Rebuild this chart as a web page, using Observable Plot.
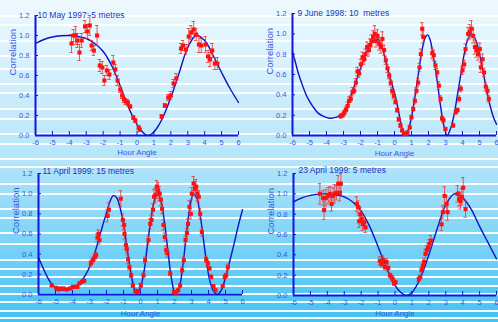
<!DOCTYPE html>
<html>
<head>
<meta charset="utf-8">
<script src="https://cdn.jsdelivr.net/npm/d3@7"></script>
<script src="https://cdn.jsdelivr.net/npm/@observablehq/plot@0.6"></script>
<style>
  html, body { margin: 0; padding: 0; }
  #wrap { position: relative; width: 498px; height: 322px; overflow: hidden;
    background: linear-gradient(#eef9fe 0%, #b4e5fa 50%, #42c2f2 100%); }
  .stripe { position: absolute; left: 0; width: 498px; height: 2px; background: rgba(255,255,255,0.95); }
  .panel { position: absolute; }
</style>
</head>
<body>
<div id="wrap"></div>
<script>
// ---- tick labels ----
const hourTicks = [-6, -5, -4, -3, -2, -1, 0, 1, 2, 3, 4, 5, 6];
const corrTicks = [0, 0.2, 0.4, 0.6, 0.8, 1.0, 1.2];
const xLabel = "Hour Angle";
const yLabel = "Correlation";
const titles = ["10 May 1997: 5 metres", "9 June 1998: 10  metres", "11 April 1999: 15 metres", "23 April 1999: 5 metres"];

// ---- 10 May 1997: measured [hour, correlation, error] ----
const may1997Points = [[-3.87,0.92,0.09],[-3.74,1.0,0.06],[-3.62,1.0,0.09],[-3.52,0.95,0.07],[-3.4,0.83,0.08],[-3.27,0.95,0.07],[-3.07,1.09,0.06],[-2.93,1.04,0.07],[-2.79,1.1,0.1],[-2.68,0.9,0.05],[-2.55,0.85,0.05],[-2.36,1.0,0.1],[-2.2,0.7,0.06],[-2.05,0.68,0.06],[-1.93,0.55,0.05],[-1.78,0.65,0.05],[-1.63,0.61,0.05],[-1.4,0.73,0.07],[-1.28,0.66,0.05],[-1.15,0.55,0.05],[-0.99,0.46,0.03],[-0.88,0.4,0.03],[-0.77,0.36,0.03],[-0.66,0.34,0.03],[-0.54,0.33,0.03],[-0.4,0.29,0.02],[-0.22,0.18,0.02],[-0.1,0.15,0.02],[0.1,0.08,0.02],[0.16,0.06,0.02],[1.46,0.19,0.02],[1.65,0.3,0.02],[1.85,0.38,0.03],[2.0,0.4,0.04],[2.16,0.52,0.04],[2.32,0.57,0.05],[2.6,0.87,0.05],[2.72,0.9,0.05],[2.9,0.86,0.05],[3.06,0.99,0.08],[3.2,1.03,0.07],[3.35,1.06,0.08],[3.5,1.01,0.06],[3.66,0.91,0.08],[3.8,0.9,0.07],[4.05,0.91,0.08],[4.2,0.79,0.06],[4.32,0.76,0.07],[4.45,0.85,0.07],[4.6,0.72,0.06],[4.75,0.72,0.06]];
const may1997FitHour = [-6,-5.5,-5,-4.5,-4,-3.5,-3,-2.5,-2,-1.5,-1,-0.5,0,0.3,0.6,0.9,1.2,1.5,2,2.5,3,3.5,4,4.5,5,5.5,6];
const may1997FitCorr = [0.92,0.96,0.985,0.997,1.0,0.99,0.97,0.92,0.84,0.7,0.5,0.28,0.11,0.04,0.0,0.02,0.08,0.17,0.38,0.63,0.88,1.0,0.95,0.8,0.63,0.47,0.33];

// ---- 9 June 1998 ----
const jun1998Points = [[-3.16,0.19,0.02],[-3.06,0.2,0.02],[-2.96,0.22,0.03],[-2.86,0.25,0.03],[-2.76,0.29,0.04],[-2.67,0.34,0.04],[-2.57,0.36,0.03],[-2.47,0.43,0.04],[-2.37,0.44,0.03],[-2.27,0.52,0.04],[-2.18,0.63,0.04],[-2.08,0.61,0.04],[-1.98,0.7,0.05],[-1.88,0.77,0.05],[-1.78,0.75,0.05],[-1.71,0.8,0.05],[-1.61,0.87,0.05],[-1.51,0.84,0.06],[-1.43,0.89,0.06],[-1.35,0.93,0.06],[-1.25,0.97,0.06],[-1.16,1.0,0.08],[-1.08,0.93,0.06],[-1.0,0.98,0.06],[-0.9,0.9,0.06],[-0.8,0.87,0.06],[-0.71,0.95,0.07],[-0.61,0.84,0.05],[-0.51,0.74,0.04],[-0.41,0.66,0.04],[-0.31,0.59,0.03],[-0.22,0.52,0.03],[-0.14,0.44,0.03],[-0.04,0.39,0.03],[0.06,0.33,0.02],[0.16,0.25,0.02],[0.25,0.16,0.02],[0.35,0.1,0.02],[0.45,0.05,0.01],[0.55,0.02,0.01],[0.65,0.015,0.01],[0.76,0.03,0.01],[0.9,0.08,0.02],[1.0,0.18,0.02],[1.1,0.26,0.02],[1.2,0.34,0.03],[1.29,0.44,0.03],[1.39,0.52,0.04],[1.47,0.67,0.04],[1.55,0.8,0.05],[1.63,1.05,0.06],[1.69,0.97,0.06],[2.22,0.81,0.05],[2.31,0.79,0.05],[2.41,0.69,0.04],[2.51,0.62,0.04],[2.61,0.49,0.04],[2.71,0.36,0.03],[2.8,0.17,0.02],[2.88,0.15,0.02],[3.0,0.065,0.01],[3.45,0.1,0.02],[3.61,0.23,0.02],[3.71,0.25,0.02],[3.8,0.36,0.03],[3.9,0.46,0.03],[4.0,0.64,0.04],[4.1,0.7,0.04],[4.18,0.85,0.05],[4.33,1.0,0.06],[4.43,1.02,0.07],[4.53,1.05,0.08],[4.63,0.98,0.07],[4.73,0.87,0.07],[4.82,0.84,0.07],[4.92,0.8,0.06],[5.02,0.85,0.06],[5.08,0.67,0.05],[5.18,0.75,0.05],[5.27,0.62,0.04],[5.37,0.48,0.04],[5.47,0.44,0.03],[5.55,0.36,0.03]];
const jun1998FitHour = [-6,-5.86,-5.67,-5.47,-5.27,-5.08,-4.78,-4.49,-4.2,-3.8,-3.41,-3.1,-2.75,-2.5,-2.25,-2,-1.75,-1.5,-1.25,-1,-0.75,-0.5,-0.25,0,0.2,0.4,0.6,0.8,1.0,1.2,1.4,1.6,1.8,1.95,2.1,2.3,2.5,2.7,2.9,3.1,3.3,3.5,3.7,3.9,4.1,4.3,4.55,4.8,5.0,5.2,5.4,5.6,5.8,6.0];
const jun1998FitCorr = [0.82,0.74,0.62,0.52,0.43,0.36,0.28,0.22,0.19,0.17,0.18,0.21,0.31,0.42,0.54,0.66,0.78,0.87,0.93,0.95,0.88,0.72,0.56,0.42,0.27,0.1,0.0,0.05,0.18,0.38,0.6,0.82,0.96,0.99,0.94,0.76,0.55,0.3,0.1,0.0,0.07,0.2,0.4,0.6,0.8,0.94,1.0,0.93,0.8,0.64,0.46,0.31,0.19,0.11];

// ---- 11 April 1999 ----
const apr11Points = [[-5.22,0.09,0.01],[-4.96,0.066,0.01],[-4.82,0.05,0.01],[-4.73,0.06,0.01],[-4.53,0.06,0.01],[-4.33,0.05,0.01],[-4.14,0.06,0.01],[-3.98,0.076,0.01],[-3.84,0.076,0.01],[-3.71,0.076,0.01],[-3.59,0.11,0.01],[-3.45,0.126,0.015],[-3.31,0.135,0.015],[-2.92,0.31,0.03],[-2.8,0.34,0.03],[-2.69,0.37,0.03],[-2.61,0.39,0.03],[-2.53,0.565,0.04],[-2.47,0.6,0.04],[-2.41,0.54,0.04],[-1.94,0.78,0.06],[-1.86,0.84,0.07],[-1.16,0.95,0.08],[-1.04,0.74,0.06],[-0.96,0.69,0.05],[-0.94,0.6,0.05],[-0.86,0.49,0.04],[-0.8,0.45,0.04],[-0.73,0.35,0.04],[-0.65,0.27,0.03],[-0.55,0.19,0.02],[-0.45,0.09,0.02],[-0.31,0.036,0.01],[-0.22,0.023,0.01],[-0.14,0.036,0.01],[0.02,0.09,0.02],[0.18,0.19,0.02],[0.27,0.34,0.03],[0.47,0.54,0.04],[0.57,0.7,0.05],[0.65,0.74,0.05],[0.73,0.84,0.06],[0.8,0.97,0.07],[0.88,0.985,0.07],[0.96,1.07,0.06],[1.04,1.03,0.08],[1.12,1.0,0.07],[1.2,0.94,0.06],[1.27,0.85,0.05],[1.35,0.69,0.05],[1.43,0.57,0.04],[1.51,0.44,0.04],[1.59,0.41,0.04],[1.75,0.21,0.02],[1.98,0.026,0.01],[2.1,0.016,0.01],[2.22,0.043,0.01],[2.33,0.09,0.02],[2.45,0.24,0.03],[2.55,0.34,0.03],[2.65,0.54,0.04],[2.73,0.61,0.04],[2.8,0.7,0.05],[2.88,0.87,0.06],[2.96,0.8,0.05],[3.02,1.0,0.06],[3.12,1.1,0.07],[3.2,1.05,0.07],[3.27,1.07,0.07],[3.35,1.0,0.07],[3.43,0.97,0.06],[3.51,0.8,0.05],[3.61,0.62,0.04],[3.86,0.35,0.03],[3.96,0.31,0.03],[4.06,0.26,0.02],[4.16,0.175,0.02],[4.29,0.083,0.01],[4.41,0.043,0.01],[4.84,0.083,0.01],[4.96,0.175,0.02],[5.04,0.19,0.02],[5.14,0.27,0.03]];
const apr11FitHour = [-6,-5.75,-5.5,-5.25,-5,-4.75,-4.5,-4.25,-4,-3.75,-3.5,-3.25,-3,-2.75,-2.5,-2.25,-2,-1.8,-1.6,-1.4,-1.2,-1,-0.8,-0.6,-0.4,-0.2,0,0.2,0.4,0.6,0.8,1.0,1.2,1.4,1.6,1.8,2.0,2.1,2.3,2.5,2.7,2.9,3.1,3.3,3.5,3.7,3.9,4.1,4.3,4.5,4.75,5.0,5.25,5.5,5.75,6.0];
const apr11FitCorr = [0.37,0.27,0.18,0.11,0.07,0.05,0.045,0.05,0.06,0.09,0.13,0.19,0.27,0.38,0.52,0.67,0.81,0.92,0.98,0.96,0.86,0.7,0.47,0.25,0.08,0.0,0.07,0.22,0.48,0.73,0.92,1.0,0.93,0.73,0.45,0.18,0.02,0.0,0.08,0.3,0.6,0.86,0.99,0.96,0.8,0.55,0.3,0.12,0.03,0.0,0.04,0.17,0.33,0.5,0.68,0.84];

// ---- 23 April 1999 ----
const apr23Points = [[-4.44,1.0,0.1],[-4.25,0.96,0.07],[-4.19,0.84,0.09],[-4.09,0.96,0.08],[-3.95,0.98,0.08],[-3.83,1.0,0.07],[-3.75,0.9,0.07],[-3.66,0.98,0.08],[-3.56,1.0,0.09],[-3.46,1.01,0.07],[-3.36,1.1,0.08],[-3.26,1.01,0.08],[-3.2,1.1,0.1],[-2.26,0.9,0.07],[-2.18,0.87,0.06],[-2.12,0.73,0.06],[-2.04,0.8,0.07],[-1.98,0.75,0.06],[-1.9,0.7,0.06],[-1.82,0.72,0.06],[-1.74,0.67,0.05],[-0.9,0.34,0.04],[-0.8,0.31,0.03],[-0.7,0.35,0.04],[-0.6,0.28,0.03],[-0.5,0.33,0.03],[-0.4,0.27,0.03],[-0.3,0.2,0.02],[-0.2,0.18,0.02],[-0.13,0.16,0.02],[-0.05,0.12,0.02],[0.03,0.13,0.02],[1.41,0.16,0.02],[1.49,0.18,0.02],[1.57,0.25,0.03],[1.65,0.29,0.03],[1.72,0.33,0.03],[1.8,0.41,0.04],[1.88,0.45,0.04],[1.96,0.47,0.04],[2.04,0.51,0.04],[2.12,0.54,0.05],[2.75,0.7,0.06],[2.83,0.82,0.06],[2.93,0.98,0.09],[3.05,0.9,0.08],[3.11,0.82,0.08],[3.7,1.0,0.08],[3.79,0.95,0.07],[3.87,0.93,0.08],[3.95,0.97,0.08],[4.03,1.06,0.1],[4.17,0.85,0.08]];
const apr23FitHour = [-6,-5.5,-5,-4.5,-4,-3.5,-3,-2.5,-2,-1.5,-1,-0.5,0,0.35,0.7,1,1.5,2,2.5,3,3.5,4,4.5,5,5.5,6];
const apr23FitCorr = [0.92,0.96,0.985,0.997,1.0,0.99,0.97,0.92,0.83,0.68,0.48,0.27,0.1,0.03,0.0,0.03,0.17,0.4,0.66,0.89,1.0,0.96,0.85,0.68,0.52,0.36];

// ---- decoration (background stripes) ----
const stripeRows = [16,25,41,56,69,84,93,109,119,134,144,159,167,184,194,209,218,233,244,260,269,277,286,294,302,311,318];
const wrap = document.getElementById("wrap");
for (const y of stripeRows) {
  const s = document.createElement("div");
  s.className = "stripe";
  s.style.top = (y - 1) + "px";
  wrap.appendChild(s);
}

const axisColor = "#1515e0";
const labelColor = "#3a55e6";
const titleColor = "#2233c4";
const curveColor = "#1010c8";
const pointColor = "#ff1010";
const errColor = "#f03030";

const layouts = [
  {left: 0,   top: 0,   width: 248, height: 160, mL: 35, mR: 10, mT: 15, mB: 25, tdx: 2, tdy: -4, xdy: 19},
  {left: 248, top: 0,   width: 250, height: 160, mL: 44, mR: 2,  mT: 13, mB: 25, tdx: 5, tdy: -4, xdy: 20},
  {left: 0,   top: 160, width: 248, height: 162, mL: 38, mR: 6,  mT: 13, mB: 28, tdx: 4, tdy: -6, xdy: 21},
  {left: 248, top: 160, width: 250, height: 162, mL: 45, mR: 2,  mT: 13, mB: 27, tdx: 5, tdy: -7, xdy: 20}
];
const sets = [
  [may1997Points, may1997FitHour, may1997FitCorr],
  [jun1998Points, jun1998FitHour, jun1998FitCorr],
  [apr11Points, apr11FitHour, apr11FitCorr],
  [apr23Points, apr23FitHour, apr23FitCorr]
];

sets.forEach(([points, fitHour, fitCorr], i) => {
  const L = layouts[i];
  const pts = points.map(([h, c, e]) => ({h, c, e}));
  const fit = fitHour.map((h, j) => ({h, c: fitCorr[j]}));
  const chart = Plot.plot({
    width: L.width, height: L.height,
    marginLeft: L.mL, marginRight: L.mR, marginTop: L.mT, marginBottom: L.mB,
    style: {background: "transparent", overflow: "visible", fontFamily: "'Liberation Sans', Arial, sans-serif", fontSize: "8px"},
    x: {domain: [-6, 6]},
    y: {domain: [0, 1.2]},
    marks: [
      Plot.axisX(hourTicks, {tickSize: -4, tickPadding: 8, tickFormat: d => String(d), stroke: axisColor, fill: labelColor, label: null, fontSize: 7.5}),
      Plot.axisY(corrTicks, {tickSize: -3, tickPadding: 9, tickFormat: d => d.toFixed(1), stroke: axisColor, fill: labelColor, label: null, fontSize: 7.5}),
      Plot.ruleX([-6], {stroke: axisColor, strokeWidth: 2}),
      Plot.ruleY([0], {stroke: axisColor, strokeWidth: 2}),
      Plot.line(fit, {x: "h", y: "c", curve: "catmull-rom", stroke: curveColor, strokeWidth: 1.4}),
      Plot.ruleX(pts, {x: "h", y1: d => d.c - d.e, y2: d => d.c + d.e, stroke: errColor, strokeOpacity: 0.8}),
      Plot.ruleY(pts, {y: d => d.c + d.e, x1: d => d.h - 0.1, x2: d => d.h + 0.1, stroke: errColor, strokeOpacity: 0.8}),
      Plot.ruleY(pts, {y: d => d.c - d.e, x1: d => d.h - 0.1, x2: d => d.h + 0.1, stroke: errColor, strokeOpacity: 0.8}),
      Plot.dot(pts, {x: "h", y: "c", symbol: "square", r: 2.3, fill: pointColor, stroke: "none"}),
      Plot.text([titles[i]], {frameAnchor: "top-left", textAnchor: "start", dx: L.tdx, dy: L.tdy, fill: titleColor, fontSize: 8.5}),
      Plot.text([xLabel], {frameAnchor: "bottom", dy: L.xdy, fill: labelColor, fontSize: 8}),
      Plot.text([yLabel], {frameAnchor: "left", rotate: -90, dx: -23, fill: labelColor, fontSize: 9.5})
    ]
  });
  const holder = document.createElement("div");
  holder.className = "panel";
  holder.style.left = L.left + "px";
  holder.style.top = L.top + "px";
  holder.appendChild(chart);
  wrap.appendChild(holder);
});
</script>
</body>
</html>
